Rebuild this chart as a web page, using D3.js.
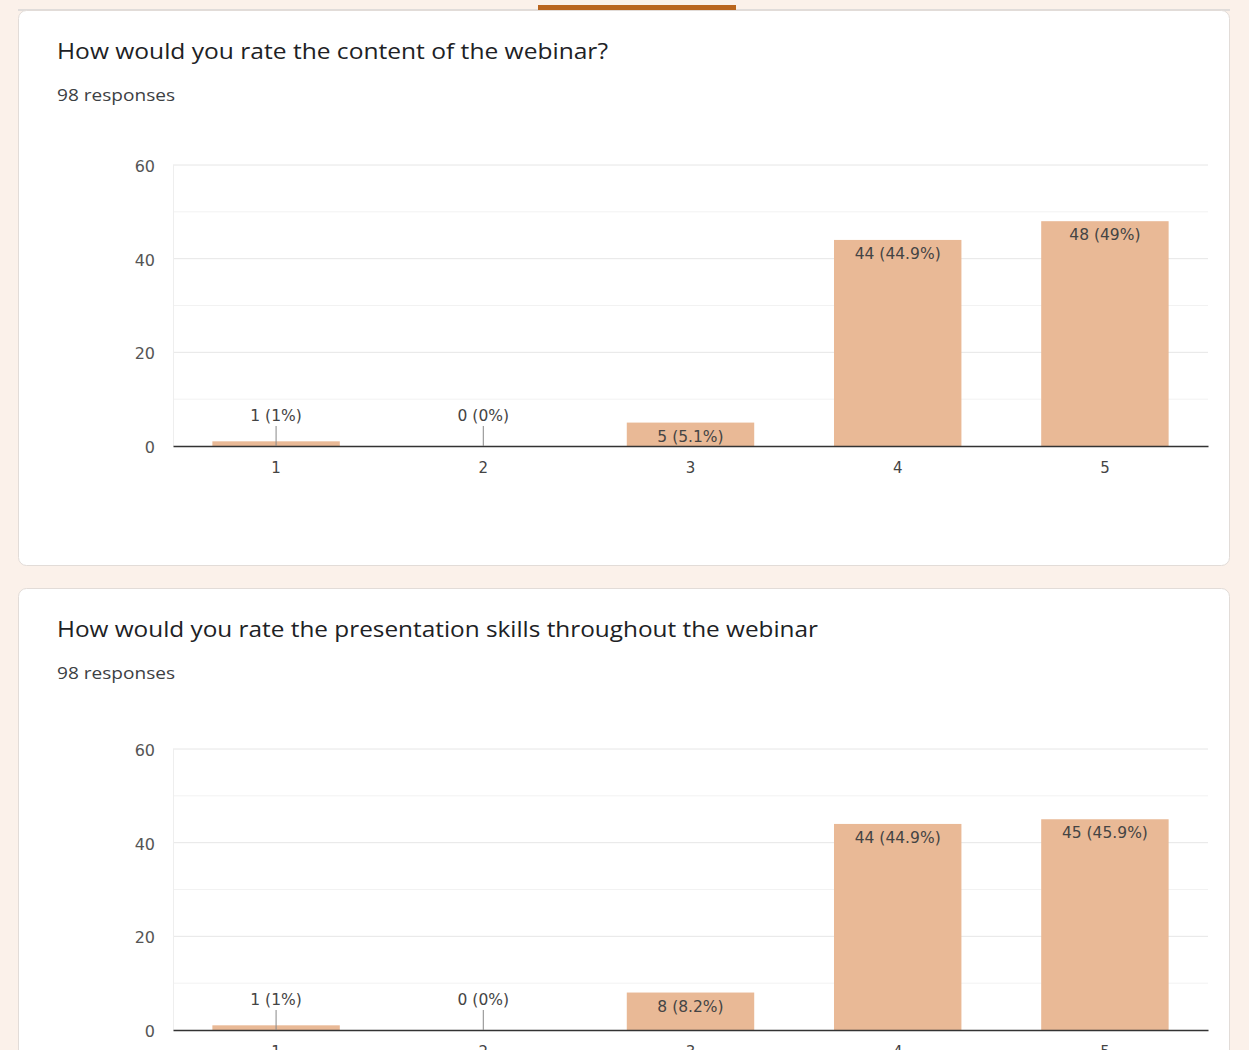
<!DOCTYPE html>
<html><head><meta charset="utf-8">
<script src="https://cdn.jsdelivr.net/npm/d3@7"></script>
<style>html,body{margin:0;padding:0;background:#fbf1ea;}</style>
</head><body>
<svg id="c" width="1249" height="1050"></svg>
<script>
const categories = ["1","2","3","4","5"];
const titles = ["How would you rate the content of the webinar?", "How would you rate the presentation skills throughout the webinar"];
const responses = ["98 responses", "98 responses"];
const values1 = [1, 0, 5, 44, 48];
const values2 = [1, 0, 8, 44, 45];
const pct1 = ["1%", "0%", "5.1%", "44.9%", "49%"];
const pct2 = ["1%", "0%", "8.2%", "44.9%", "45.9%"];
const yTicks = [0, 20, 40, 60];
const yMinor = [10, 30, 50];

const svg = d3.select("#c");
const cards = [{top:10, bottom:565, plotTop:165, plotBottom:446, titleW:551},
               {top:588, bottom:1080, plotTop:749, plotBottom:1030, titleW:761}];
const series = [values1, values2];
const pcts = [pct1, pct2];
const lblFont = "DejaVu Sans, Verdana, sans-serif";

svg.append("rect").attr("x",18).attr("y",9).attr("width",1212).attr("height",2).attr("fill","#e0dcda");

cards.forEach((cd, i) => {
  svg.append("rect").attr("x",18.5).attr("y",cd.top+0.5).attr("width",1211).attr("height",cd.bottom-cd.top)
    .attr("rx",8).attr("fill","#fff").attr("stroke","#e2dcd8");
  const g = svg.append("g");
  g.append("text").attr("x",57).attr("y",cd.top+49).attr("font-family","Open Sans, sans-serif")
    .attr("font-size",22).attr("fill","#202124")
    .attr("textLength",cd.titleW).attr("lengthAdjust","spacingAndGlyphs").text(titles[i]);
  g.append("text").attr("x",57).attr("y",cd.top+91).attr("font-family","Open Sans, sans-serif")
    .attr("font-size",15.5).attr("fill","#3c4043")
    .attr("textLength",118).attr("lengthAdjust","spacingAndGlyphs").text(responses[i]);

  const x = d3.scaleBand().domain(categories).range([173,1208]).paddingInner(0.385).paddingOuter(0.19);
  const y = d3.scaleLinear().domain([0,60]).range([cd.plotBottom, cd.plotTop]);

  g.selectAll(".minor").data(yMinor).join("line").attr("x1",173).attr("x2",1208)
    .attr("y1",d=>y(d)).attr("y2",d=>y(d)).attr("stroke","#f2f2f2");
  g.selectAll(".major").data(yTicks.filter(d=>d>0)).join("line").attr("x1",173).attr("x2",1208)
    .attr("y1",d=>y(d)).attr("y2",d=>y(d)).attr("stroke","#e6e6e6");
  g.append("line").attr("x1",173.5).attr("x2",173.5).attr("y1",cd.plotTop).attr("y2",cd.plotBottom).attr("stroke","#eee");

  const yAxis = g.append("g").attr("transform","translate(173,0)")
    .call(d3.axisLeft(y).tickValues(yTicks).tickSize(0).tickPadding(18));
  yAxis.select(".domain").remove();
  yAxis.selectAll("text").attr("font-family",lblFont).attr("font-size",16).attr("fill","#555").attr("dy","0.4em");

  const vals = series[i];
  g.selectAll(".bar").data(vals).join("rect")
    .attr("x",(d,j)=>x(categories[j])).attr("width",x.bandwidth())
    .attr("y",d=>y(d)).attr("height",d=>y(0)-y(d)).attr("fill","#e9b996");

  const xAxis = g.append("g").attr("transform",`translate(0,${y(0)})`)
    .call(d3.axisBottom(x).tickSize(0).tickPadding(16));
  xAxis.select(".domain").attr("stroke","#333").attr("stroke-width",1.6);
  xAxis.selectAll("text").attr("font-family",lblFont).attr("font-size",15).attr("fill","#444");

  vals.forEach((v,j) => {
    const cx = x(categories[j]) + x.bandwidth()/2;
    const label = v + " (" + pcts[i][j] + ")";
    const h = y(0)-y(v);
    if (h < 20) {
      const ly = y(0) - 25;
      g.append("line").attr("x1",cx).attr("x2",cx).attr("y1",ly+5).attr("y2",y(0)).attr("stroke","#888");
      g.append("text").attr("x",cx).attr("y",ly).attr("text-anchor","middle")
        .attr("font-family",lblFont).attr("font-size",15.5).attr("fill","#444").text(label);
    } else {
      g.append("text").attr("x",cx).attr("y",y(v)+19).attr("text-anchor","middle")
        .attr("font-family",lblFont).attr("font-size",15.5).attr("fill","#444").text(label);
    }
  });
});

svg.append("rect").attr("x",538).attr("y",5).attr("width",198).attr("height",5).attr("fill","#b9651e");
</script>
</body></html>
